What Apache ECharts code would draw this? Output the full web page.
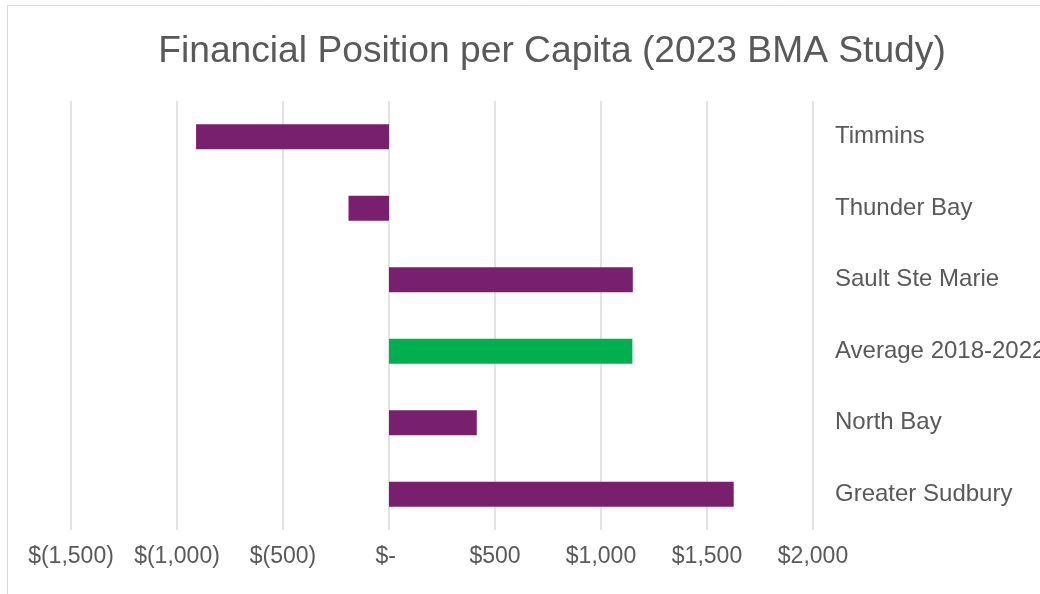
<!DOCTYPE html>
<html>
<head>
<meta charset="utf-8">
<title>Financial Position per Capita</title>
<style>
  html, body { margin: 0; padding: 0; background: #fff; }
  #main { width: 1040px; height: 594px; }
</style>
</head>
<body>
<div id="main"></div>
<script src="https://cdn.jsdelivr.net/npm/echarts@6/dist/echarts.min.js"></script>
<script type="text/javascript">
// categories, top to bottom as shown
var cities = ['Timmins', 'Thunder Bay', 'Sault Ste Marie', 'Average 2018-2022', 'North Bay', 'Greater Sudbury'];
// $ per capita
var values = [-910, -191, 1150, 1148, 414, 1626];
var highlight = 'Average 2018-2022';

var purple = '#78206E';
var green = '#00B050';
var grey = '#595959';

var myChart = echarts.init(document.getElementById('main'));

function money(v) {
    if (v === 0) return '$- ';
    var s = Math.abs(v).toLocaleString('en-US');
    return v < 0 ? '$(' + s + ')' : '$' + s;
}

var option = {
    animation: false,
    textStyle: { fontFamily: '"Liberation Sans", Arial, sans-serif' },
    title: {
        text: 'Financial Position per Capita (2023 BMA Study)',
        left: 547,
        top: 28,
        textAlign: 'center',
        textStyle: { fontSize: 37.2, fontWeight: 'normal', color: grey }
    },
    graphic: [{
        type: 'rect',
        shape: { x: 7.5, y: 5.5, width: 1200, height: 800 },
        style: { fill: 'none', stroke: '#d9d9d9', lineWidth: 1 },
        silent: true
    }],
    // labels run off the right edge in the original, so don't let the grid shrink
    grid: { left: 71, right: 227, top: 101, bottom: 64, outerBoundsMode: 'none' },
    xAxis: {
        type: 'value',
        min: -1500,
        max: 2000,
        interval: 500,
        axisLine: { show: false },
        axisTick: { show: false },
        splitLine: { lineStyle: { color: '#d9d9d9', width: 1.5 } },
        axisLabel: { formatter: money, fontSize: 23, color: grey, margin: 15 }
    },
    yAxis: {
        type: 'category',
        inverse: true,
        position: 'right',
        data: cities,
        axisLine: { show: false },
        axisTick: { show: false },
        axisLabel: { fontSize: 24, color: grey, margin: 22, align: 'left' }
    },
    series: [{
        type: 'bar',
        barWidth: 25,
        data: values.map(function (v, i) {
            return { value: v, itemStyle: { color: cities[i] === highlight ? green : purple } };
        })
    }]
};

myChart.setOption(option);
</script>
</body>
</html>
